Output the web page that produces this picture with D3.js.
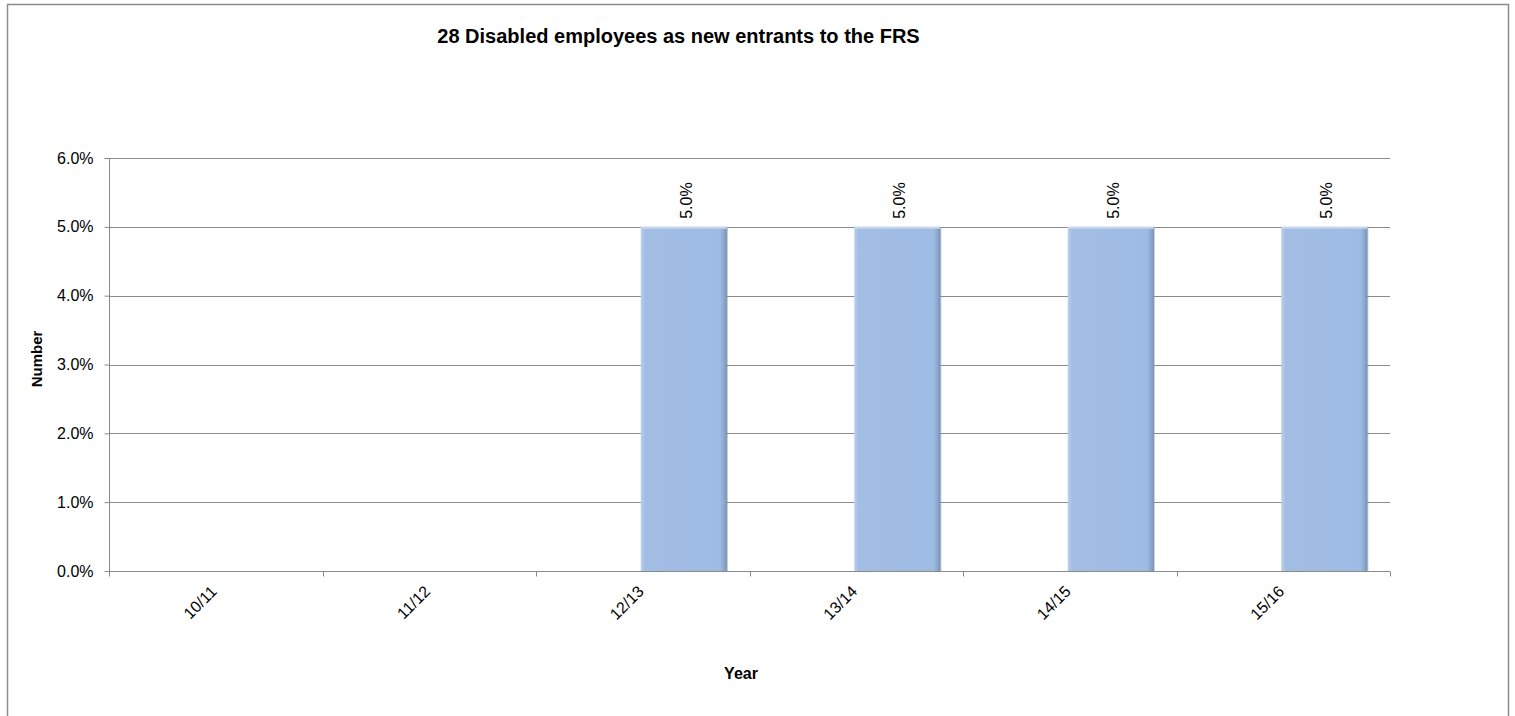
<!DOCTYPE html>
<html><head><meta charset="utf-8">
<script src="https://cdn.jsdelivr.net/npm/d3@7"></script>
<style>body{margin:0;background:#fff;} text{font-family:"Liberation Sans",Arial,sans-serif;}</style>
</head><body>
<svg id="c" width="1515" height="716"></svg>
<script>
const categories = ["10/11","11/12","12/13","13/14","14/15","15/16"];
const seriesNames = ["Blank","Disabled"];
const blankValues = [null,null,null,null,null,null];
const disabledValues = [null,null,0.05,0.05,0.05,0.05];
const yTicks = [0,0.01,0.02,0.03,0.04,0.05,0.06];
const titleText = "28 Disabled employees as new entrants to the FRS";

const svg = d3.select("#c");
const m = {l:109, r:1390, t:158, b:571};
svg.append("rect").attr("x",7.5).attr("y",4.5).attr("width",1501).attr("height",730)
  .attr("fill","#fff").attr("stroke","#8c8c8c").attr("stroke-width",1.5);

const defs = svg.append("defs");
const g = defs.append("linearGradient").attr("id","bg").attr("x1",0).attr("x2",1).attr("y1",0).attr("y2",0);
[["0%","#bcd0ec"],["5%","#a2bee5"],["92%","#9ebbe3"],["97%","#8ba6cc"],["100%","#7890b3"]].forEach(s=>g.append("stop").attr("offset",s[0]).attr("stop-color",s[1]));

const x = d3.scaleBand().domain(categories).range([m.l,m.r]).paddingInner(0).paddingOuter(0);
const xs = d3.scaleBand().domain(seriesNames).range([-2,x.bandwidth()-2]).paddingInner(0).paddingOuter(0.24);
const y = d3.scaleLinear().domain([0,0.06]).range([m.b,m.t]);
const fs = "16px";

// gridlines
svg.append("g").selectAll("line").data(yTicks.slice(1)).join("line")
  .attr("x1",m.l).attr("x2",m.r).attr("y1",d=>Math.round(y(d))+0.5).attr("y2",d=>Math.round(y(d))+0.5)
  .attr("stroke","#8a8a8a").attr("stroke-width",1);

// y axis
const ya = svg.append("g").attr("transform",`translate(${m.l+0.5},0)`)
  .call(d3.axisLeft(y).tickValues(yTicks).tickFormat(d3.format(".1%")).tickSize(5).tickPadding(11));
ya.select(".domain").attr("stroke","#8a8a8a").attr("d",`M-5,${m.t+0.5}H0V${m.b+0.5}`);
ya.selectAll(".tick line").attr("stroke","#8a8a8a");
ya.selectAll(".tick text").attr("font-size",fs).attr("fill","#000").attr("font-family","Liberation Sans, Arial, sans-serif");

// bars
const rows = categories.map((c,i)=>({c, vals:[{s:seriesNames[0],v:blankValues[i]},{s:seriesNames[1],v:disabledValues[i]}]}));
const bars = svg.append("g").selectAll("g").data(rows).join("g").attr("transform",d=>`translate(${x(d.c)},0)`);
const present = bars.selectAll("g").data(d=>d.vals.filter(v=>v.v!=null)).join("g");
present.append("rect").attr("x",d=>xs(d.s)+1).attr("y",d=>y(d.v)+1).attr("width",xs.bandwidth()).attr("height",d=>y(0)-y(d.v))
  .attr("fill","#6f7f99").attr("opacity",0.45);
present.append("rect").attr("x",d=>xs(d.s)).attr("y",d=>y(d.v)).attr("width",xs.bandwidth()).attr("height",d=>y(0)-y(d.v))
  .attr("fill","url(#bg)");
present.append("line").attr("x1",d=>xs(d.s)).attr("x2",d=>xs(d.s)+xs.bandwidth()).attr("y1",d=>y(d.v)+1).attr("y2",d=>y(d.v)+1)
  .attr("stroke","#c6d6ee").attr("stroke-width",2);
present.append("text").attr("transform",d=>`translate(${xs(d.s)+xs.bandwidth()/2+8},${y(d.v)-8}) rotate(-90)`)
  .attr("font-size",fs).attr("fill","#000").text(d=>d3.format(".1%")(d.v));

// x axis
const xa = svg.append("g").attr("transform",`translate(0,${m.b+0.5})`);
xa.append("line").attr("x1",m.l).attr("x2",m.r).attr("stroke","#8a8a8a");
xa.selectAll(".tk").data(categories.concat(["end"])).join("line")
  .attr("x1",(d,i)=>Math.round(m.l+i*x.bandwidth())+0.5).attr("x2",(d,i)=>Math.round(m.l+i*x.bandwidth())+0.5)
  .attr("y1",0).attr("y2",5).attr("stroke","#8a8a8a");
xa.selectAll("text").data(categories).join("text")
  .attr("transform",d=>`translate(${x(d)+x.bandwidth()/2+2},${21}) rotate(-45)`)
  .attr("text-anchor","end").attr("font-size",fs).attr("fill","#000").text(d=>d);

// titles
svg.append("text").attr("x",678.5).attr("y",43).attr("text-anchor","middle").attr("font-size","20px").attr("font-weight","bold").text(titleText);
svg.append("text").attr("transform",`translate(42,359) rotate(-90)`).attr("text-anchor","middle").attr("font-size","15px").attr("font-weight","bold").text("Number");
svg.append("text").attr("x",741).attr("y",679).attr("text-anchor","middle").attr("font-size","16px").attr("font-weight","bold").text("Year");
</script>
</body></html>
